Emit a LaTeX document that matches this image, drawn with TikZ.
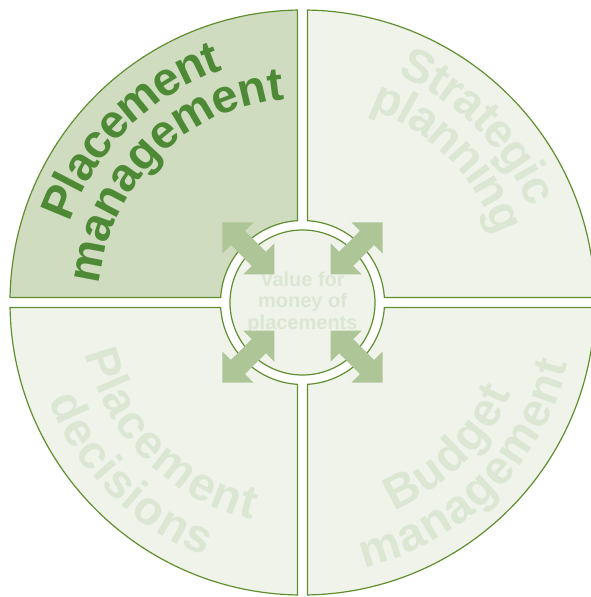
\documentclass[tikz,border=0pt]{standalone}
\usepackage{fontspec}
\newfontfamily\arcfont{Liberation Sans}
\usetikzlibrary{decorations.text}
\definecolor{rim}{HTML}{5F8F2F}
\definecolor{paleleaf}{HTML}{EFF3EA}
\definecolor{sageleaf}{HTML}{CFDCBF}
\definecolor{deepleaf}{HTML}{4E8A36}
\definecolor{ghostleaf}{HTML}{DCE7D3}
\definecolor{arrowleaf}{HTML}{AEC697}
\tikzset{
  quarter/.style={draw=rim,line width=1.2pt},
  arcword/.style 2 args={decorate,decoration={text along path,text align=center,raise=-13pt,
    text color=#1,text={|\arcfont\bfseries\fontsize{47}{47}\selectfont|#2}}}
}
\begin{document}
\begin{tikzpicture}[x=1pt,y=1pt]
  \path[fill=white,use as bounding box] (-302.5,-294.5) rectangle (287.5,302.5);
  \foreach \r/\shade in {0/paleleaf,90/sageleaf,180/paleleaf,270/paleleaf}
    \draw[quarter,fill=\shade,rotate=\r] (5,81.85) -- (5,292.46)
      arc[start angle=89.02,end angle=0.98,radius=292.5] -- (81.85,5)
      arc[start angle=3.5,end angle=86.5,radius=82] -- cycle;
  \node(hub)[circle,draw=rim,line width=1.2pt,fill=paleleaf,inner sep=0pt,minimum size=145pt,
    align=center,text=ghostleaf,font=\arcfont\bfseries\fontsize{20}{21.5}\selectfont] at (0,0){Value for\\money of\\placements};
  \foreach \a in {45,135,225,315}
    \fill[arrowleaf,shift={(\a:76.5)},rotate=\a] (-36.75,0) -- (-14.75,22) -- (-14.75,10)
      -- (14.75,10) -- (14.75,22) -- (36.75,0) -- (14.75,-22) -- (14.75,-10)
      -- (-14.75,-10) -- (-14.75,-22) -- cycle;
  % upper quadrants, read clockwise
  \path[arcword={deepleaf}{Placement}] (180:259) arc[start angle=180,end angle=90,radius=259];
  \path[arcword={deepleaf}{management},decoration={raise=-4pt}] (180:208) arc[start angle=180,end angle=90,radius=208];
  \path[arcword={ghostleaf}{Strategic}] (90:259) arc[start angle=90,end angle=0,radius=259];
  \path[arcword={ghostleaf}{planning}] (90:218) arc[start angle=90,end angle=0,radius=218];
  % lower quadrants, read anticlockwise
  \path[arcword={ghostleaf}{Placement}] (180:210) arc[start angle=180,end angle=270,radius=210];
  \path[arcword={ghostleaf}{decisions}] (180:259) arc[start angle=180,end angle=270,radius=259];
  \path[arcword={ghostleaf}{Budget}] (270:215) arc[start angle=270,end angle=360,radius=215];
  \path[arcword={ghostleaf}{management}] (270:259) arc[start angle=270,end angle=360,radius=259];
\end{tikzpicture}
\end{document}
